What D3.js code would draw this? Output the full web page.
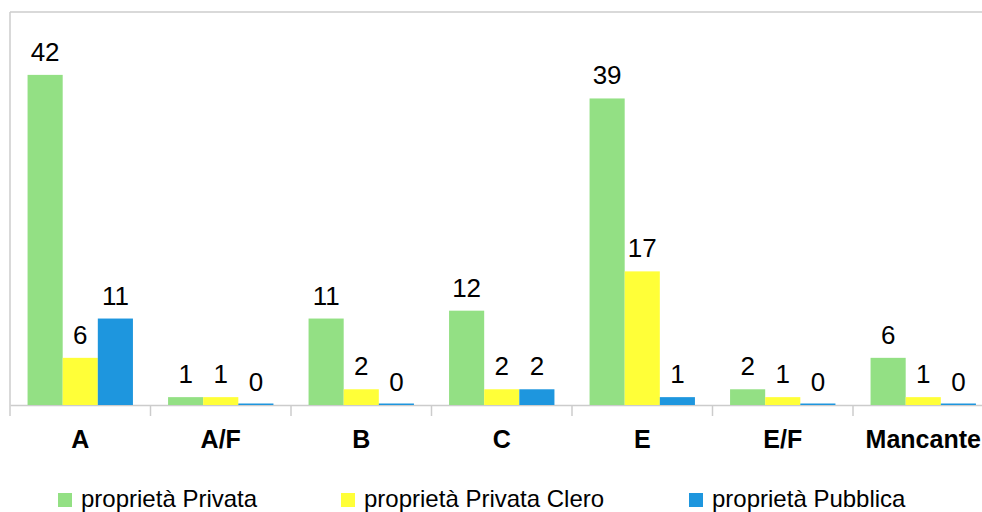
<!DOCTYPE html>
<html>
<head>
    <meta charset="utf-8">
    <script src="https://cdn.jsdelivr.net/npm/d3@7"></script>
    <style>
        body { margin: 0; background: #fff; }
        svg { display: block; font-family: "Liberation Sans", Arial, sans-serif; }
    </style>
</head>
<body>
    <svg width="982" height="512"></svg>
    <script>
        // data
        var categories = ["A", "A/F", "B", "C", "E", "E/F", "Mancante"];
        var seriesNames = ["proprietà Privata", "proprietà Privata Clero", "proprietà Pubblica"];
        var privata = [42, 1, 11, 12, 39, 2, 6];
        var clero = [6, 1, 2, 2, 17, 1, 1];
        var pubblica = [11, 0, 0, 2, 1, 0, 0];
        var colors = ["#93e084", "#ffff38", "#1e96de"];

        var svg = d3.select("svg"),
            plotLeft = 10, plotTop = 12, baseY = 405,
            step = 140.5;

        var x = d3.scaleBand()
            .domain(categories)
            .range([plotLeft, plotLeft + step * categories.length])
            .paddingInner(0.25)
            .paddingOuter(0.125);

        var xs = d3.scaleBand()
            .domain(d3.range(seriesNames.length))
            .range([0, x.bandwidth()]);

        var y = d3.scaleLinear()
            .domain([0, 50])
            .range([baseY, plotTop]);

        var rows = categories.map(function(c, i) {
            return { cat: c, values: [privata[i], clero[i], pubblica[i]] };
        });

        // frame
        svg.append("line")
            .attr("x1", plotLeft).attr("x2", 982)
            .attr("y1", plotTop).attr("y2", plotTop)
            .attr("stroke", "#cccccc").attr("stroke-width", 1.5);
        svg.append("line")
            .attr("x1", plotLeft).attr("x2", plotLeft)
            .attr("y1", plotTop).attr("y2", baseY)
            .attr("stroke", "#cccccc").attr("stroke-width", 1.5);

        // x axis
        var axis = svg.append("g")
            .attr("transform", "translate(0," + baseY + ")")
            .call(d3.axisBottom(x).tickSize(0).tickPadding(25));
        axis.select(".domain").attr("stroke", "#cccccc").attr("stroke-width", 1.5);
        axis.selectAll("text")
            .attr("font-size", 25)
            .attr("font-weight", "bold")
            .attr("fill", "#000")
            .attr("font-family", "Liberation Sans, Arial, sans-serif");

        svg.selectAll(".bound")
            .data(d3.range(categories.length + 1))
            .enter().append("line")
            .attr("x1", function(i) { return plotLeft + i * step; })
            .attr("x2", function(i) { return plotLeft + i * step; })
            .attr("y1", baseY).attr("y2", baseY + 11)
            .attr("stroke", "#cccccc").attr("stroke-width", 1.5);

        // bars
        var g = svg.selectAll(".grp")
            .data(rows)
            .enter().append("g")
            .attr("transform", function(d) { return "translate(" + x(d.cat) + ",0)"; });

        g.selectAll("rect")
            .data(function(d) { return d.values; })
            .enter().append("rect")
            .attr("x", function(d, i) { return xs(i); })
            .attr("width", xs.bandwidth())
            .attr("y", function(d) { return d === 0 ? baseY - 1.5 : y(d); })
            .attr("height", function(d) { return d === 0 ? 1.5 : baseY - y(d); })
            .attr("fill", function(d, i) { return colors[i]; });

        g.selectAll("text")
            .data(function(d) { return d.values; })
            .enter().append("text")
            .attr("x", function(d, i) { return xs(i) + xs.bandwidth() / 2; })
            .attr("y", function(d) { return y(d) - 14; })
            .attr("text-anchor", "middle")
            .attr("font-size", 26)
            .attr("fill", "#000")
            .text(function(d) { return d; });

        // legend
        var legendX = [58, 341, 689];
        var leg = svg.selectAll(".leg")
            .data(seriesNames)
            .enter().append("g")
            .attr("transform", function(d, i) { return "translate(" + legendX[i] + ",493)"; });
        leg.append("rect")
            .attr("width", 14).attr("height", 14)
            .attr("fill", function(d, i) { return colors[i]; });
        leg.append("text")
            .attr("x", 23).attr("y", 14)
            .attr("font-size", 24)
            .attr("fill", "#000")
            .text(function(d) { return d; });
    </script>
</body>
</html>
